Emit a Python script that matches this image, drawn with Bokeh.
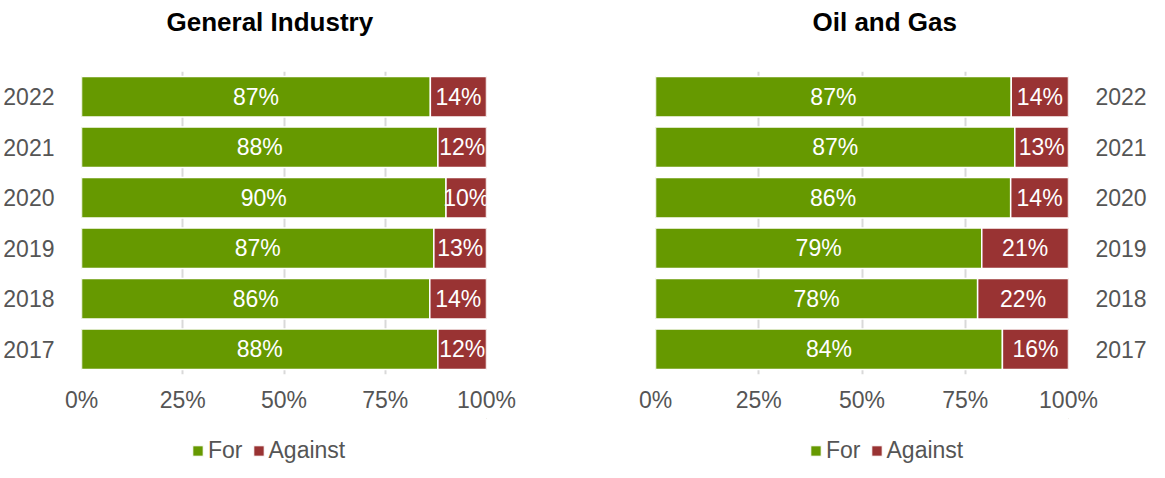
from bokeh.plotting import figure
from bokeh.models import Range1d, FactorRange, FixedTicker, Legend, LegendItem, ColumnDataSource, Title
from bokeh.layouts import row, column
from bokeh.core.properties import value
from bokeh.embed import file_html
from bokeh.resources import INLINE

try:
    from bokeh.models import GlobalInlineStyleSheet
    page_sheets = [GlobalInlineStyleSheet(css="html, body { overflow: hidden; }")]
except Exception:
    page_sheets = []

years = ["2017", "2018", "2019", "2020", "2021", "2022"]
gi_for = [88, 86, 87, 90, 88, 87]
gi_against = [12, 14, 13, 10, 12, 14]
og_for = [84, 78, 79, 86, 87, 87]
og_against = [16, 22, 21, 14, 13, 14]
x_ticks = [0, 0.25, 0.5, 0.75, 1.0]
x_tick_labels = ["0%", "25%", "50%", "75%", "100%"]
series_names = ["For", "Against"]
series_colors = ["#669900", "#993333"]

FONT = "Liberation Sans"
GREY_TXT = "#555555"


def make_panel(title, f_vals, a_vals, width, mbl, mbr, yloc, title_offset):
    p = figure(width=width, height=418, y_range=FactorRange(*years, range_padding=0),
               x_range=Range1d(0, 1), output_backend="svg", toolbar_location=None,
               y_axis_location=yloc, min_border_left=mbl, min_border_right=mbr,
               min_border_top=62, min_border_bottom=44, title=None)
    tot = [f + a for f, a in zip(f_vals, a_vals)]
    ff = [f / t for f, t in zip(f_vals, tot)]
    af = [a / t for a, t in zip(a_vals, tot)]
    src = ColumnDataSource(dict(
        y=years, f0=[0] * len(years), f1=ff, a1=[x + y for x, y in zip(ff, af)],
        fmid=[x / 2 for x in ff], amid=[x + y / 2 for x, y in zip(ff, af)],
        flab=[f"{v}%" for v in f_vals], alab=[f"{v}%" for v in a_vals]))
    p.hbar(y="y", left="f0", right="f1", height=0.8, source=src,
           fill_color=series_colors[0], line_color="white", line_width=1.5)
    p.hbar(y="y", left="f1", right="a1", height=0.8, source=src,
           fill_color=series_colors[1], line_color="white", line_width=1.5)
    for xc, tc in (("fmid", "flab"), ("amid", "alab")):
        p.text(x=xc, y="y", text=tc, source=src, text_align="center",
               text_baseline="middle", text_color="white",
               text_font=value(FONT), text_font_size="23px")

    # spacer between title and plot area, then the real title above it
    p.add_layout(Title(text=" ", text_font_size="1px", standoff=28), "above")
    p.add_layout(Title(text=title, align="left", offset=title_offset, standoff=8,
                       text_font=FONT, text_font_size="26px", text_font_style="bold",
                       text_color="black"), "above")

    p.xaxis.ticker = FixedTicker(ticks=x_ticks)
    p.xaxis.major_label_overrides = {t: l for t, l in zip(x_ticks, x_tick_labels)}
    p.xaxis.axis_line_color = None
    p.xaxis.major_tick_line_color = None
    p.xaxis.minor_tick_line_color = None
    p.xaxis.major_label_standoff = 6
    p.xaxis.major_label_text_font = FONT
    p.xaxis.major_label_text_font_size = "23px"
    p.xaxis.major_label_text_color = GREY_TXT

    p.yaxis.axis_line_color = None
    p.yaxis.major_tick_line_color = None
    p.yaxis.minor_tick_line_color = None
    p.yaxis.major_label_standoff = 21
    p.yaxis.major_label_text_font = FONT
    p.yaxis.major_label_text_font_size = "23px"
    p.yaxis.major_label_text_color = GREY_TXT

    p.ygrid.grid_line_color = None
    p.xgrid.grid_line_color = "#d9d9d9"
    p.xgrid.grid_line_width = 2
    p.outline_line_color = None
    return p


def make_legend(width, legend_x):
    lf = figure(width=width, height=50, x_range=Range1d(0, 1), y_range=Range1d(0, 1),
                output_backend="svg", toolbar_location=None, title=None,
                x_axis_location=None, y_axis_location=None,
                min_border_left=0, min_border_right=0, min_border_top=0, min_border_bottom=0)
    lf.grid.grid_line_color = None
    lf.outline_line_color = None
    items = []
    for name, col in zip(series_names, series_colors):
        r = lf.hbar(y=[5], left=[5], right=[6], height=0.8,
                    fill_color=col, line_color="white", line_width=1)
        items.append(LegendItem(label=name, renderers=[r]))
    leg = Legend(items=items, orientation="horizontal", location=(legend_x, 4),
                 glyph_width=13, glyph_height=13, label_standoff=4, spacing=9,
                 label_text_font=FONT, label_text_font_size="23px",
                 label_text_color=GREY_TXT, border_line_color=None,
                 background_fill_alpha=0, padding=0, margin=0)
    lf.add_layout(leg, "center")
    return lf


p1 = make_panel("General Industry", gi_for, gi_against, 560, 77, 74, "left", 85)
p2 = make_panel("Oil and Gas", og_for, og_against, 589, 95, 73, "right", 157)
l1 = make_legend(560, 110)
l2 = make_legend(589, 154)

layout = row(column(p1, l1), column(p2, l2), stylesheets=page_sheets)
with open("out.html", "w") as fh:
    fh.write(file_html(layout, INLINE))
